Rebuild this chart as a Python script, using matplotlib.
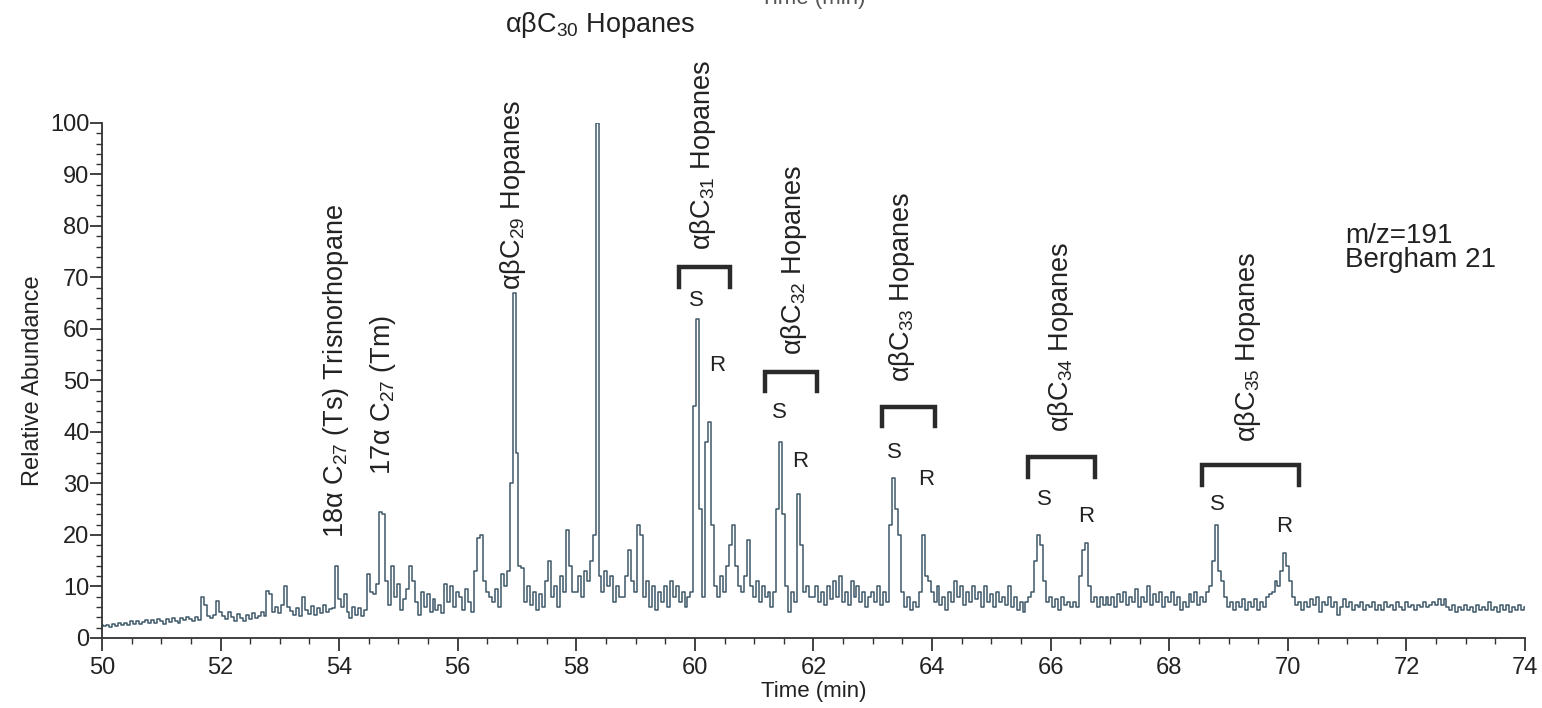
import numpy as np
import matplotlib
matplotlib.use("Agg")
import matplotlib.pyplot as plt
from matplotlib.ticker import MultipleLocator

plt.rcParams['font.family'] = ['Liberation Sans', 'DejaVu Sans']
plt.rcParams['mathtext.fontset'] = 'custom'
plt.rcParams['mathtext.rm'] = 'Liberation Sans'
plt.rcParams['mathtext.default'] = 'regular'

# ---- chromatogram (m/z 191), sampled every 0.05 min, one list per minute ----
t_start = 50.0
t_step = 0.05
ab_50 = [2.5, 2.3, 2.6, 2.2, 2.8, 2.4, 2.9, 2.5, 3.0, 2.6, 3.2, 2.8, 3.3, 2.7, 3.1, 3.5, 2.9, 3.4, 3.0, 3.6]
ab_51 = [3.2, 2.8, 3.6, 3.1, 3.8, 3.3, 2.9, 3.9, 3.4, 4.1, 3.6, 3.2, 4.0, 3.5, 8.0, 6.5, 4.2, 3.8, 4.5, 7.2]
ab_52 = [5.0, 4.2, 3.6, 5.1, 4.0, 3.3, 4.6, 3.9, 3.2, 4.4, 3.7, 4.8, 3.9, 4.2, 5.0, 4.3, 9.2, 8.5, 5.1, 6.0]
ab_53 = [4.8, 6.5, 10.0, 6.0, 5.2, 4.4, 5.8, 4.3, 8.0, 5.5, 4.6, 6.3, 4.5, 5.8, 4.8, 6.5, 5.0, 5.6, 5.8, 14.0]
ab_54 = [7.5, 6.0, 8.5, 5.0, 3.8, 6.0, 4.5, 5.8, 4.2, 5.5, 12.5, 9.0, 8.5, 10.5, 24.5, 24.0, 11.0, 6.5, 14.0, 8.0]
ab_55 = [10.5, 5.5, 7.5, 9.5, 14.0, 11.0, 7.0, 4.5, 9.0, 6.0, 8.5, 5.0, 7.5, 5.5, 6.5, 4.8, 10.5, 7.0, 10.0, 6.0]
ab_56 = [9.0, 8.0, 5.5, 9.5, 7.0, 5.0, 13.0, 19.5, 20.0, 11.0, 9.0, 8.0, 7.0, 9.5, 6.0, 12.5, 10.0, 13.0, 30.0, 67.0]
ab_57 = [36.0, 14.0, 13.5, 7.0, 10.0, 6.5, 9.0, 5.5, 8.5, 6.0, 11.0, 15.0, 8.0, 10.0, 6.0, 12.0, 9.0, 21.0, 14.0, 9.0]
ab_58 = [9.0, 12.0, 8.0, 13.0, 11.0, 15.0, 20.0, 100.0, 12.0, 9.0, 13.0, 10.0, 12.0, 7.0, 10.0, 8.0, 8.0, 12.0, 17.0, 11.0]
ab_59 = [9.0, 22.0, 20.0, 8.0, 11.0, 6.0, 10.0, 5.5, 9.0, 7.0, 10.0, 6.0, 11.0, 8.0, 10.0, 7.0, 9.0, 6.0, 8.0, 9.0]
ab_60 = [45.0, 62.0, 25.0, 8.0, 38.0, 42.0, 22.0, 10.0, 8.0, 12.0, 9.0, 14.0, 18.0, 22.0, 14.0, 10.0, 9.0, 12.0, 19.0, 10.0]
ab_61 = [8.0, 11.0, 7.0, 10.0, 8.0, 9.0, 6.0, 9.0, 25.0, 38.0, 24.0, 10.0, 5.0, 9.0, 7.0, 28.0, 18.0, 9.0, 10.0, 8.0]
ab_62 = [8.0, 10.0, 7.0, 9.0, 6.5, 10.0, 7.5, 11.0, 8.0, 12.0, 7.0, 9.0, 6.5, 11.0, 8.0, 10.0, 7.0, 9.0, 6.0, 8.0]
ab_63 = [9.0, 7.0, 10.0, 6.5, 9.0, 7.0, 22.0, 31.0, 25.0, 20.0, 9.0, 6.0, 8.0, 5.5, 7.0, 6.0, 9.0, 20.0, 12.0, 11.0]
ab_64 = [9.0, 7.0, 10.0, 6.5, 8.0, 5.5, 9.0, 7.0, 11.0, 8.0, 10.0, 6.5, 9.0, 7.0, 10.0, 7.5, 9.0, 6.0, 10.0, 7.0]
ab_65 = [8.5, 6.0, 9.0, 7.0, 8.0, 6.5, 10.0, 6.0, 8.0, 5.5, 7.0, 5.0, 7.0, 8.0, 9.0, 15.0, 20.0, 18.0, 11.0, 7.0]
ab_66 = [8.0, 6.0, 7.5, 5.5, 8.0, 6.5, 7.0, 6.0, 7.0, 6.0, 12.0, 17.0, 18.5, 10.0, 7.0, 8.0, 6.0, 8.0, 6.5, 8.0]
ab_67 = [6.5, 8.0, 6.0, 8.5, 7.0, 9.0, 6.5, 8.0, 7.0, 9.5, 6.0, 8.0, 7.0, 10.0, 6.5, 8.5, 7.0, 9.0, 6.0, 8.0]
ab_68 = [7.0, 9.0, 6.5, 8.0, 5.5, 7.0, 6.0, 8.5, 7.0, 9.0, 6.5, 8.0, 7.0, 9.0, 10.0, 15.0, 22.0, 13.0, 11.0, 8.0]
ab_69 = [6.0, 7.0, 5.5, 7.0, 6.0, 7.5, 5.5, 7.0, 6.0, 7.5, 5.5, 7.0, 6.0, 8.0, 8.5, 9.0, 11.0, 10.0, 13.0, 16.5]
ab_70 = [14.0, 11.0, 8.0, 6.5, 7.0, 5.5, 7.0, 6.0, 7.5, 6.5, 8.0, 5.0, 7.0, 6.5, 8.0, 6.0, 7.0, 4.5, 6.0, 7.5]
ab_71 = [6.0, 7.0, 5.5, 6.5, 6.0, 7.0, 5.5, 6.5, 6.0, 7.0, 5.5, 6.5, 5.5, 7.0, 6.0, 6.5, 5.5, 7.0, 6.0, 5.5]
ab_72 = [7.0, 6.0, 6.5, 5.5, 6.5, 6.0, 7.0, 6.0, 6.5, 7.0, 6.5, 7.5, 6.5, 7.5, 6.0, 5.5, 6.5, 5.0, 6.0, 5.5]
ab_73 = [6.5, 5.5, 6.0, 5.0, 6.5, 5.5, 6.0, 5.5, 7.0, 5.5, 6.0, 5.0, 6.5, 5.5, 6.5, 5.0, 6.0, 5.5, 6.5, 5.5]
ab_74 = [6.0]

abundance = np.array(ab_50 + ab_51 + ab_52 + ab_53 + ab_54 + ab_55 + ab_56 + ab_57 +
                     ab_58 + ab_59 + ab_60 + ab_61 + ab_62 + ab_63 + ab_64 + ab_65 +
                     ab_66 + ab_67 + ab_68 + ab_69 + ab_70 + ab_71 + ab_72 + ab_73 + ab_74)
time = t_start + t_step * np.arange(len(abundance))

# ---- annotations ----
vert_labels = ["18α C$_{27}$ (Ts) Trisnorhopane", "17α C$_{27}$ (Tm)", "αβC$_{29}$ Hopanes",
               "αβC$_{31}$ Hopanes", "αβC$_{32}$ Hopanes", "αβC$_{33}$ Hopanes",
               "αβC$_{34}$ Hopanes", "αβC$_{35}$ Hopanes"]
vert_x = [53.95, 54.74, 56.93, 60.13, 61.67, 63.50, 66.18, 69.32]
vert_y = [19.4, 31.7, 67.6, 75.3, 55.0, 49.7, 40.0, 38.0]

top_label = "αβC$_{30}$ Hopanes"
top_label_xy = (58.4, 119.0)

bracket_left = [59.73, 61.18, 63.15, 65.62, 68.55]
bracket_right = [60.59, 62.06, 64.05, 66.75, 70.19]
bracket_top = [72.0, 51.7, 44.9, 35.1, 33.6]
bracket_leg = 3.8

s_x = [60.03, 61.42, 63.37, 65.90, 68.82]
s_y = [65.6, 43.7, 36.0, 26.8, 26.0]
r_x = [60.37, 61.77, 63.90, 66.60, 69.93]
r_y = [53.0, 34.2, 30.7, 23.5, 21.7]

info_text = "m/z=191\nBergham 21"
info_xy = (70.96, 80.5)

x_ticks = [50, 52, 54, 56, 58, 60, 62, 64, 66, 68, 70, 72, 74]
y_ticks = [0, 10, 20, 30, 40, 50, 60, 70, 80, 90, 100]

# ---- figure ----
fig = plt.figure(figsize=(15.42, 7.08), dpi=100)
ax = fig.add_axes([0.0661, 0.0989, 0.9229, 0.7274])
ax.plot(time, abundance, color="#3d5868", lw=1.1, drawstyle="steps-mid")

ax.set_xlim(50, 74)
ax.set_ylim(0, 100)
for s in ("top", "right"):
    ax.spines[s].set_visible(False)
for s in ("left", "bottom"):
    ax.spines[s].set_color("#333333")
    ax.spines[s].set_linewidth(1.3)
ax.set_xticks(x_ticks)
ax.set_yticks(y_ticks)
ax.xaxis.set_minor_locator(MultipleLocator(0.5))
ax.yaxis.set_minor_locator(MultipleLocator(2))
ax.tick_params(which="major", length=9, width=1.3, color="#333333", labelsize=17,
               labelcolor="#222222")
ax.tick_params(axis="x", which="major", pad=5)
ax.tick_params(axis="y", which="major", pad=0)
ax.tick_params(which="minor", length=4.5, width=1.0, color="#333333")
ax.set_xlabel("Time (min)", fontsize=16, color="#222222", labelpad=1)
ax.set_ylabel("Relative Abundance", fontsize=17, color="#222222", labelpad=4)

for lab, x, y in zip(vert_labels, vert_x, vert_y):
    ax.text(x, y, lab, rotation=90, ha="center", va="bottom", fontsize=19.5,
            color="#222222", clip_on=False)
ax.text(top_label_xy[0], top_label_xy[1], top_label, ha="center", va="center",
        fontsize=19.5, color="#222222", clip_on=False)

for xl, xr, yt in zip(bracket_left, bracket_right, bracket_top):
    ax.plot([xl, xl, xr, xr], [yt - bracket_leg, yt, yt, yt - bracket_leg],
            color="#2a2a2a", lw=3.2, solid_joinstyle="miter", clip_on=False)

for x, y in zip(s_x, s_y):
    ax.text(x, y, "S", ha="center", va="center", fontsize=16, color="#222222")
for x, y in zip(r_x, r_y):
    ax.text(x, y, "R", ha="center", va="center", fontsize=16, color="#222222")

ax.text(info_xy[0], info_xy[1], info_text, ha="left", va="top", fontsize=20,
        color="#222222", linespacing=0.9)

fig.text(0.527, 0.987, "Time (min)", ha="center", va="bottom", fontsize=16, color="#555555")

fig.savefig("out.png", dpi=100)
